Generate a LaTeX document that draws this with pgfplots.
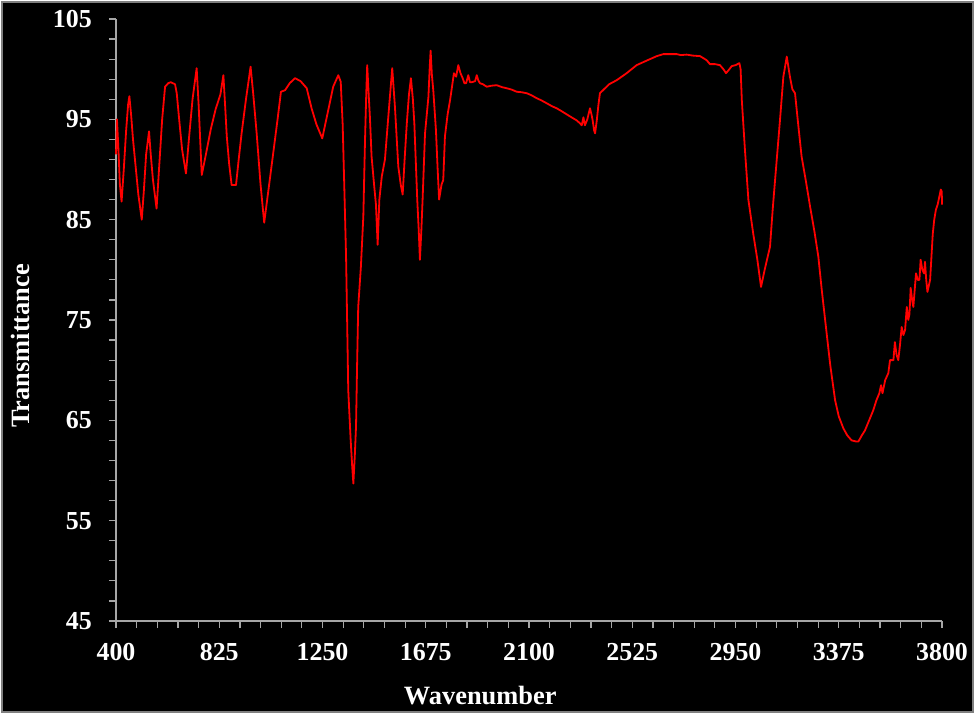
\documentclass[border=0pt]{standalone}
\usepackage{fontspec}
\setmainfont{Liberation Serif}
\usepackage{pgfplots}
\pgfplotsset{compat=1.18}
\usetikzlibrary{backgrounds}
\definecolor{axisgray}{RGB}{166,166,166}
\definecolor{specred}{RGB}{255,0,0}
\pgfplotstableread{
x y
400 91.5
404 95.0
410 92.0
416 88.5
423 86.8
432 90.0
442 94.0
450 96.5
455 97.3
462 95.5
470 93.0
480 90.5
492 87.5
506 85.0
515 88.0
524 91.5
536 93.8
543 91.5
552 89.0
567 86.1
577 90.0
590 95.0
602 98.25
615 98.6
625 98.7
643 98.5
650 97.6
660 95.0
672 92.0
688 89.6
700 93.0
715 97.0
732 100.1
740 96.5
753 89.45
770 91.5
790 94.0
810 96.0
830 97.5
842 99.4
850 96.0
856 93.3
866 90.5
876 88.45
894 88.45
905 91.0
917 93.6
935 97.0
954 100.25
965 97.5
979 93.6
995 88.5
1010 84.7
1025 87.5
1047 91.6
1065 95.0
1079 97.75
1096 97.9
1115 98.6
1137 99.1
1160 98.8
1185 98.1
1205 96.1
1225 94.5
1249 93.1
1270 95.5
1294 98.25
1315 99.4
1325 98.75
1333 94.5
1340 88.0
1347 81.3
1352 74.0
1356 68.0
1366 63.0
1372 60.5
1377 58.7
1383 61.5
1388 64.4
1392 70.0
1397 76.3
1408 80.3
1418 85.3
1425 92.9
1430 97.5
1434 100.4
1440 97.5
1445 95.3
1452 91.3
1463 88.3
1470 86.5
1477 82.5
1484 87.0
1494 89.3
1507 91.0
1521 95.3
1530 98.0
1537 100.1
1548 96.3
1562 90.3
1572 88.5
1580 87.5
1588 91.0
1597 94.6
1606 97.5
1614 99.1
1622 97.0
1628 94.6
1640 87.0
1646 84.0
1651 81.0
1657 84.0
1662 87.0
1672 93.6
1686 97.25
1691 100.0
1695 101.85
1700 99.5
1706 97.9
1717 93.9
1724 90.0
1730 87.0
1740 88.5
1747 88.95
1754 93.3
1765 95.5
1775 96.9
1791 99.6
1800 99.25
1809 100.4
1818 99.6
1827 99.1
1834 98.6
1841 98.6
1850 99.4
1857 98.7
1864 98.7
1871 98.75
1878 98.8
1885 99.4
1891 98.9
1898 98.6
1910 98.5
1926 98.25
1945 98.35
1967 98.4
1990 98.2
2008 98.1
2030 97.95
2049 97.75
2070 97.7
2091 97.6
2110 97.4
2132 97.1
2150 96.9
2173 96.6
2195 96.3
2214 96.1
2235 95.8
2255 95.5
2275 95.2
2296 94.9
2310 94.6
2317 94.4
2324 95.2
2330 94.4
2340 95.0
2351 96.1
2357 95.5
2362 94.9
2368 93.9
2372 93.6
2379 94.9
2386 96.5
2392 97.6
2413 98.1
2430 98.5
2461 98.9
2502 99.6
2543 100.4
2584 100.85
2626 101.3
2653 101.5
2680 101.5
2708 101.5
2725 101.4
2749 101.45
2775 101.35
2804 101.3
2831 100.9
2845 100.5
2866 100.5
2886 100.4
2900 100.0
2911 99.6
2925 100.0
2934 100.3
2950 100.4
2966 100.6
2971 100.0
2976 96.9
2989 91.9
3003 87.0
3023 83.6
3040 81.0
3055 78.3
3070 80.0
3092 82.3
3103 86.0
3113 89.0
3133 94.9
3147 99.25
3161 101.25
3174 99.25
3184 98.0
3195 97.6
3208 94.5
3222 91.3
3240 88.8
3257 86.3
3275 83.8
3291 81.3
3305 78.0
3325 73.7
3340 70.5
3360 67.0
3375 65.4
3394 64.2
3410 63.5
3428 63.0
3445 62.9
3456 62.9
3470 63.5
3483 64.0
3500 65.0
3517 66.0
3530 67.0
3542 67.7
3549 68.5
3555 67.7
3566 69.0
3579 69.7
3586 71.0
3600 71.0
3606 72.8
3613 71.5
3620 71.0
3627 72.5
3634 74.3
3641 73.5
3648 74.0
3655 76.3
3661 75.0
3666 75.6
3671 78.2
3677 77.0
3682 76.3
3693 79.65
3700 79.0
3707 79.0
3712 81.0
3719 80.0
3726 79.65
3730 80.8
3735 79.0
3740 77.8
3751 79.0
3757 81.5
3762 83.6
3768 85.0
3775 86.0
3782 86.5
3789 87.3
3795 88.0
3799 87.8
3800 86.5
}\spectrum
\begin{document}
\begin{tikzpicture}
\begin{axis}[
  scale only axis, width=826bp, height=602bp,
  xmin=400, xmax=3800, ymin=45, ymax=105,
  axis lines*=left,
  axis line style={draw=axisgray, line width=1.5bp},
  xtick={400,825,...,3800}, ytick={45,55,...,105},
  minor x tick num=4, minor y tick num=4,
  tick align=outside, major tick length=7bp, minor tick length=7bp,
  every tick/.style={draw=axisgray, line width=1.2bp},
  every minor tick/.style={draw=axisgray, line width=1.2bp},
  /pgf/number format/assume math mode=true,
  /pgf/number format/1000 sep={},
  ticklabel style={font=\fontsize{26}{30}\selectfont\bfseries, text=white, inner sep=0pt},
  yticklabel style={xshift=-17bp},
  xticklabel style={yshift=-15bp},
  xlabel={Wavenumber}, ylabel={Transmittance},
  label style={font=\fontsize{26.5}{30}\selectfont\bfseries, text=white, inner sep=0pt},
  xlabel style={at={(axis description cs:0.441,0)}, anchor=center, yshift=-75bp},
  ylabel style={at={(axis description cs:0,0.457)}, anchor=center, rotate=0, yshift=96bp},
  clip=false,
]
\coordinate (ll) at (rel axis cs:0,0);
\coordinate (ur) at (rel axis cs:1,1);
\addplot[specred, line width=1.8bp, line join=round, no marks] table[x=x, y=y] {\spectrum};
\end{axis}
\begin{scope}[on background layer]
\fill[white] ([shift={(-116bp,-93bp)}]ll) rectangle ([shift={(33bp,19bp)}]ur);
\fill[black, draw=gray, line width=1.5bp] ([shift={(-114bp,-91bp)}]ll) rectangle ([shift={(31bp,17bp)}]ur);
\end{scope}
\pgfresetboundingbox
\path ([shift={(-116bp,-93bp)}]ll) rectangle ([shift={(33bp,19bp)}]ur);
\end{tikzpicture}
\end{document}
